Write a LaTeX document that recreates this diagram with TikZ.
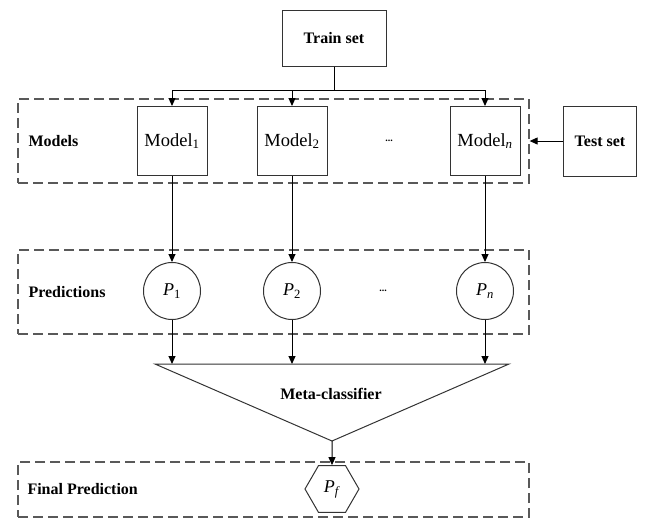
\documentclass[tikz,border=0pt]{standalone}
\usepackage{fontspec}
\setmainfont{Liberation Serif}
\usetikzlibrary{shapes.geometric,arrows.meta}

\begin{document}
\begin{tikzpicture}[x=1pt,y=-1pt,line width=1pt,>={Triangle[length=8pt,width=7pt]},
  setbox/.style={draw=black!80, font=\fontsize{16}{18}\selectfont\bfseries},
  modelbox/.style={draw=black!80, minimum width=70pt, minimum height=69pt, inner sep=0pt, font=\fontsize{18.5}{20}\selectfont},
  group/.style={draw=black!65, line width=1.3pt, dash pattern=on 10pt off 5pt, inner sep=0pt},
  pred/.style={circle, draw=black!80, minimum size=57pt, inner sep=0pt, font=\fontsize{18}{20}\selectfont},
  lab/.style={anchor=west, inner sep=0pt, font=\fontsize{16}{18}\selectfont\bfseries}]
\useasboundingbox (0,0) rectangle (662,528);
\def\GX{273.5};\def\GW{511pt};
\node[setbox, minimum width=104pt, minimum height=56pt] (train) at (334,38) {Train set};
\node[setbox, minimum width=73pt, minimum height=70pt] (test) at (600,141) {Test set};
\node[group, minimum width=\GW, minimum height=84pt] (models) at (\GX,141) {};
\node[lab] (lmodels) at (28,141) {Models};
\node[modelbox] (m1) at (172,141) {Model\textsubscript{1}};
\node[modelbox] (m2) at (292,141) {Model\textsubscript{2}};
\node[modelbox] (mn) at (485,141) {Model\textsubscript{\textit{n}}};
\node[font=\bfseries] (mdots) at (389,141) {...};
\coordinate (bus) at (334,90);
\foreach \m in {m1,m2,mn} \draw[->] (train.south) -- (bus) -| (\m.north);
\draw[->] (test.west) -- (models.east |- test.west);
\node[group, minimum width=\GW, minimum height=84pt] (preds) at (\GX,292) {};
\node[lab] (lpreds) at (28,292) {Predictions};
\node[pred] (p1) at (172,291) {\textit{P}\textsubscript{1}};
\node[pred] (p2) at (292,291) {\textit{P}\textsubscript{2}};
\node[pred] (pn) at (485,291) {\textit{P}\textsubscript{\textit{n}}};
\node[font=\bfseries] (pdots) at (383,291) {...};
\foreach \m/\p in {m1/p1,m2/p2,mn/pn} \draw[->] (\m.south) -- (\p.north);
\coordinate (mtl) at (155,364); \coordinate (mtr) at (509,364); \coordinate (apex) at (332,441);
\draw[black!80] (mtl) -- (mtr) -- (apex) -- cycle;
\node[font=\fontsize{16}{18}\selectfont\bfseries] (meta) at (331,394) {Meta-classifier};
\foreach \p in {p1,p2,pn} \draw[->] (\p.south) -- (\p.south |- mtl);
\node[group, minimum width=\GW, minimum height=55pt] (final) at (\GX,489.5) {};
\node[lab] (lfinal) at (27,489) {Final Prediction};
\node[regular polygon, regular polygon sides=6, draw=black!80, minimum size=54pt, inner sep=0pt, font=\fontsize{18}{20}\selectfont] (pf) at (332,489) {\textit{P}\textsubscript{\textit{f}}};
\draw[->] (apex) -- (pf.north);
\end{tikzpicture}
\end{document}
